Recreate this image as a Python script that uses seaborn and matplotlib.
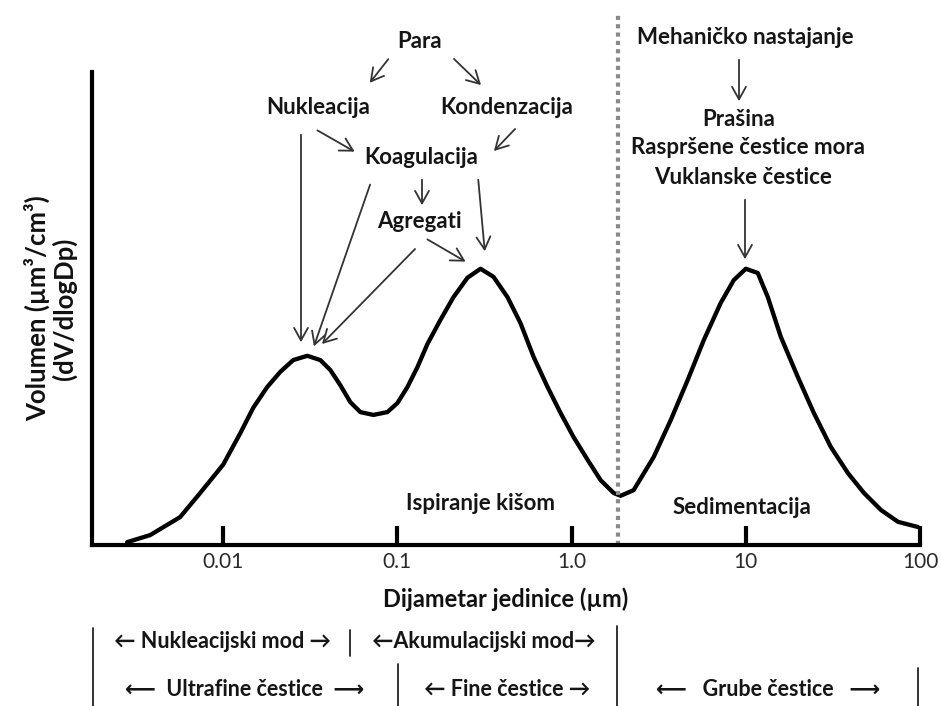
import numpy as np
import pandas as pd
import seaborn as sns
import matplotlib.pyplot as plt
from matplotlib.patches import FancyArrowPatch

# curve: particle diameter (um) and relative volume
diam = [0.00281, 0.00381, 0.00566, 0.00738, 0.0100, 0.01252, 0.01487, 0.0179,
        0.02126, 0.02525, 0.0304, 0.0361, 0.0412, 0.04702, 0.05369, 0.06129,
        0.07279, 0.08763, 0.100, 0.1142, 0.1303, 0.1488, 0.1767, 0.2099,
        0.2525, 0.300, 0.3562, 0.4286, 0.5091, 0.6047, 0.7277, 0.8647,
        1.027, 1.236, 1.468, 1.743, 1.912, 2.271, 2.96, 3.707, 4.642, 5.737,
        7.184, 8.532, 10.0, 11.72, 13.38, 15.89, 19.9, 24.59, 30.8, 38.57,
        47.67, 59.7, 74.75, 97.4]
volume = [0.6, 2.1, 5.9, 11.0, 17.0, 23.6, 29.0, 33.4,
          36.6, 39.1, 40.0, 39.1, 37.0, 33.8, 30.2, 28.1,
          27.5, 28.1, 30.0, 33.4, 37.6, 42.5, 47.6, 52.4,
          56.5, 58.4, 56.7, 52.4, 46.9, 39.8, 33.4, 27.9,
          22.8, 18.0, 13.7, 11.0, 10.4, 11.6, 18.6, 26.4, 34.9, 43.3,
          51.2, 56.0, 58.4, 57.5, 52.4, 44.0, 35.5, 27.9, 20.7, 15.2,
          11.0, 7.4, 4.9, 3.8]

tick_vals = [0.01, 0.1, 1.0, 10, 100]
tick_labels = ['0.01', '0.1', '1.0', '10', '100']
coarse_split = 1.85

df = pd.DataFrame({'d': diam, 'v': volume})

sns.set_theme(style='white')
plt.rcParams['font.family'] = ['Lato', 'DejaVu Sans']

W, H = 942, 706
fig = plt.figure(figsize=(W / 100, H / 100), dpi=100)
ax = fig.add_axes([92 / W, 1 - 545 / H, (920 - 92) / W, (545 - 72) / H])


def px(x, y):
    # top-left pixel -> figure fraction
    return (x / W, 1 - y / H)


sns.lineplot(data=df, x='d', y='v', color='black', lw=3.1, ax=ax)
ax.lines[0].set_solid_joinstyle('round')
ax.lines[0].set_solid_capstyle('round')

ax.set_xscale('log')
ax.set_xlim(10 ** -2.753, 100)
ax.set_ylim(0, 100)
ax.set_xticks(tick_vals)
ax.set_xticklabels(tick_labels)
ax.minorticks_off()
ax.set_yticks([])
ax.tick_params(axis='x', bottom=True, direction='in', length=14, width=3,
               color='black', labelsize=15, labelcolor='#2a2a2a', pad=5)
for s in ['top', 'right']:
    ax.spines[s].set_visible(False)
for s in ['left', 'bottom']:
    ax.spines[s].set_linewidth(3)
    ax.spines[s].set_color('black')

ax.axvline(coarse_split, ymin=0, ymax=1.125, color='#8a8a8a', lw=3,
           ls=(0, (1, 1)), dash_capstyle='butt', clip_on=False)

ax.set_xlabel('Dijametar jedinice (µm)', fontsize=17, fontweight='bold',
              color='#111', labelpad=11)
ax.set_ylabel('Volumen (µm³/cm³)\n(dV/dlogDp)', fontsize=18.5,
              fontweight='bold', color='#111', labelpad=11, linespacing=1.05)

tkw = dict(fontsize=16, fontweight='bold', color='#151515',
           ha='center', va='center')
labels = [
    ('Para', 420, 42), ('Nukleacija', 318, 107), ('Kondenzacija', 507, 108),
    ('Koagulacija', 421, 157), ('Agregati', 419, 222),
    ('Mehaničko nastajanje', 745, 38), ('Prašina', 739, 120),
    ('Raspršene čestice mora', 748, 147), ('Vuklanske čestice', 743, 177),
    ('Ispiranje kišom', 480, 503), ('Sedimentacija', 742, 507),
]
for t, x, y in labels:
    fig.text(*px(x, y), t, **tkw)

arrows = [
    ((390, 57), (368, 85)), ((452, 57), (483, 87)),
    ((315, 129), (357, 153)), ((517, 127), (492, 153)),
    ((422, 177), (422, 208)), ((478, 177), (485, 254)),
    ((425, 238), (468, 263)), ((301, 132), (301, 345)),
    ((371, 182), (313, 349)), ((417, 247), (320, 346)),
    ((739, 57), (739, 104)), ((745, 197), (745, 262)),
]
for (x0, y0), (x1, y1) in arrows:
    fig.add_artist(FancyArrowPatch(
        px(x0, y0), px(x1, y1), transform=fig.transFigure,
        arrowstyle='->,head_length=9,head_width=5', mutation_scale=1,
        color='#333', lw=1.3))

# size class brackets under the axis
bars = [(93, 628, 706), (350, 630, 656), (398, 664, 706),
        (617, 626, 706), (918, 668, 706)]
for x, y0, y1 in bars:
    fig.add_artist(plt.Line2D([x / W, x / W], [1 - y0 / H, 1 - y1 / H],
                              color='#222', lw=1.3))

bkw = dict(fontsize=15.5, fontweight='bold', color='#151515',
           ha='center', va='center')
fig.text(*px(222, 641), '← Nukleacijski mod →', **bkw)
fig.text(*px(484, 641), '←Akumulacijski mod→', **bkw)
fig.text(*px(245, 690), '⟵  Ultrafine čestice  ⟶', **bkw)
fig.text(*px(507, 690), '← Fine čestice →', **bkw)
fig.text(*px(768, 690), '⟵   Grube čestice   ⟶', **bkw)

fig.savefig('out.png', dpi=100, facecolor='white')
